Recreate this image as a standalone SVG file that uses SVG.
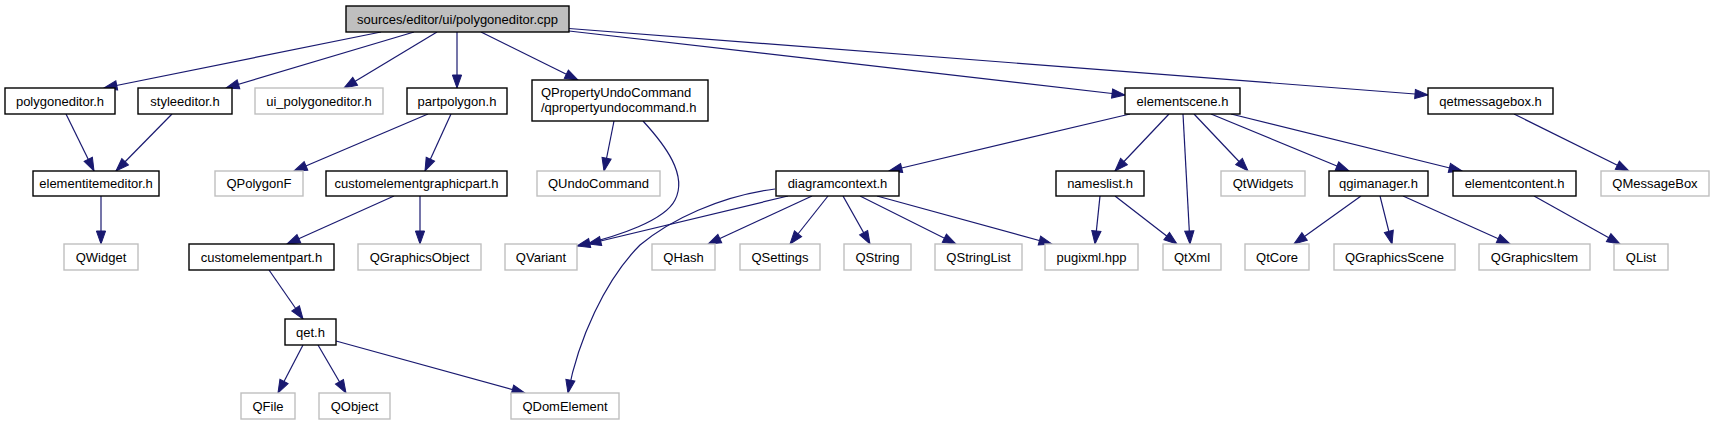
<svg xmlns="http://www.w3.org/2000/svg" width="1714" height="425" viewBox="0 0 1714 425">
<style>
rect{stroke-width:1.4}
.n rect{fill:#fff;stroke:#000}
.u rect{fill:#fff;stroke:#bfbfbf}
.r rect{fill:#bfbfbf;stroke:#000}
text{font-family:"Liberation Sans",Arial,sans-serif;font-size:13px;fill:#000;text-anchor:middle}
text.l{text-anchor:start}
#edges path{fill:none;stroke:#191970;stroke-width:1.2;marker-end:url(#a)}
</style>
<defs>
<marker id="a" markerUnits="userSpaceOnUse" markerWidth="16" markerHeight="12" refX="13" refY="6" orient="auto" overflow="visible">
<path d="M0,1.4 L13,6 L0,10.6 Z" fill="#191970" stroke="#191970" stroke-width="1"/>
</marker>
</defs>
<rect width="1714" height="425" fill="#fff"/>
<g id="edges">
<path d="M381,32 L104,88"/>
<path d="M414,32 L226,88"/>
<path d="M437,32 L344,88"/>
<path d="M457,32 L457,88"/>
<path d="M481,32 L578,80"/>
<path d="M569,31 L1125,95"/>
<path d="M569,28.5 L1428,95"/>
<path d="M66,114 L94,171"/>
<path d="M172,114 L116,171"/>
<path d="M101,196 L101,244"/>
<path d="M428,114 L294,171"/>
<path d="M451,114 L425,171"/>
<path d="M394,196 L287,244"/>
<path d="M420,196 L420,244"/>
<path d="M269,270 L303,319"/>
<path d="M303,345 L278,393"/>
<path d="M318,345 L346,393"/>
<path d="M336,341 L525,393"/>
<path d="M614,121 L604,171"/>
<path d="M643,121 C665,145 688,175 675,200 C665,220 620,236 577,246"/>
<path d="M1130,114 L889,171"/>
<path d="M1169,114 L1115,171"/>
<path d="M1183,114 L1190,244"/>
<path d="M1194,114 L1248,171"/>
<path d="M1211,114 L1349,171"/>
<path d="M1231,114 L1462,171"/>
<path d="M788,196 L588,244"/>
<path d="M812,196 L708,244"/>
<path d="M828,196 L790,244"/>
<path d="M843,196 L870,244"/>
<path d="M860,196 L956,244"/>
<path d="M877,196 L1052,244"/>
<path d="M775,189 C720,196 670,220 640,245 C605,280 578,340 568,393"/>
<path d="M1100,196 L1095,244"/>
<path d="M1115,196 L1177,244"/>
<path d="M1361,196 L1294,244"/>
<path d="M1380,196 L1392,244"/>
<path d="M1403,196 L1510,244"/>
<path d="M1534,196 L1620,244"/>
<path d="M1514,114 L1629,171"/>
</g>
<g id="root" class="r"><rect x="346" y="6" width="223" height="26"/><text x="457.5" y="23.5">sources/editor/ui/polygoneditor.cpp</text></g>
<g id="polygoneditor_h" class="n"><rect x="5" y="88" width="110" height="26"/><text x="60" y="105.5">polygoneditor.h</text></g>
<g id="styleeditor_h" class="n"><rect x="138" y="88" width="94" height="26"/><text x="185" y="105.5">styleeditor.h</text></g>
<g id="ui_polygoneditor_h" class="u"><rect x="255" y="88" width="128" height="26"/><text x="319" y="105.5">ui_polygoneditor.h</text></g>
<g id="partpolygon_h" class="n"><rect x="407" y="88" width="100" height="26"/><text x="457" y="105.5">partpolygon.h</text></g>
<g id="qpropertyundocommand_h" class="n"><rect x="532" y="80" width="176" height="41"/><text class="l" x="541" y="97">QPropertyUndoCommand</text><text class="l" x="541" y="112">/qpropertyundocommand.h</text></g>
<g id="elementscene_h" class="n"><rect x="1125" y="88" width="115" height="26"/><text x="1182.5" y="105.5">elementscene.h</text></g>
<g id="qetmessagebox_h" class="n"><rect x="1428" y="88" width="125" height="26"/><text x="1490.5" y="105.5">qetmessagebox.h</text></g>
<g id="elementitemeditor_h" class="n"><rect x="33" y="171" width="126" height="25"/><text x="96" y="188">elementitemeditor.h</text></g>
<g id="QPolygonF" class="u"><rect x="215" y="171" width="88" height="25"/><text x="259" y="188">QPolygonF</text></g>
<g id="customelementgraphicpart_h" class="n"><rect x="326" y="171" width="181" height="25"/><text x="416.5" y="188">customelementgraphicpart.h</text></g>
<g id="QUndoCommand" class="u"><rect x="537" y="171" width="123" height="25"/><text x="598.5" y="188">QUndoCommand</text></g>
<g id="diagramcontext_h" class="n"><rect x="776" y="171" width="123" height="25"/><text x="837.5" y="188">diagramcontext.h</text></g>
<g id="nameslist_h" class="n"><rect x="1056" y="171" width="88" height="25"/><text x="1100" y="188">nameslist.h</text></g>
<g id="QtWidgets" class="u"><rect x="1221" y="171" width="84" height="25"/><text x="1263" y="188">QtWidgets</text></g>
<g id="qgimanager_h" class="n"><rect x="1329" y="171" width="99" height="25"/><text x="1378.5" y="188">qgimanager.h</text></g>
<g id="elementcontent_h" class="n"><rect x="1453" y="171" width="123" height="25"/><text x="1514.5" y="188">elementcontent.h</text></g>
<g id="QMessageBox" class="u"><rect x="1601" y="171" width="108" height="25"/><text x="1655" y="188">QMessageBox</text></g>
<g id="QWidget" class="u"><rect x="64" y="244" width="74" height="26"/><text x="101" y="261.5">QWidget</text></g>
<g id="customelementpart_h" class="n"><rect x="189" y="244" width="145" height="26"/><text x="261.5" y="261.5">customelementpart.h</text></g>
<g id="QGraphicsObject" class="u"><rect x="358" y="244" width="123" height="26"/><text x="419.5" y="261.5">QGraphicsObject</text></g>
<g id="QVariant" class="u"><rect x="505" y="244" width="72" height="26"/><text x="541" y="261.5">QVariant</text></g>
<g id="QHash" class="u"><rect x="652" y="244" width="63" height="26"/><text x="683.5" y="261.5">QHash</text></g>
<g id="QSettings" class="u"><rect x="740" y="244" width="80" height="26"/><text x="780" y="261.5">QSettings</text></g>
<g id="QString" class="u"><rect x="844" y="244" width="67" height="26"/><text x="877.5" y="261.5">QString</text></g>
<g id="QStringList" class="u"><rect x="935" y="244" width="87" height="26"/><text x="978.5" y="261.5">QStringList</text></g>
<g id="pugixml_hpp" class="u"><rect x="1045" y="244" width="93" height="26"/><text x="1091.5" y="261.5">pugixml.hpp</text></g>
<g id="QtXml" class="u"><rect x="1163" y="244" width="58" height="26"/><text x="1192" y="261.5">QtXml</text></g>
<g id="QtCore" class="u"><rect x="1245" y="244" width="64" height="26"/><text x="1277" y="261.5">QtCore</text></g>
<g id="QGraphicsScene" class="u"><rect x="1334" y="244" width="121" height="26"/><text x="1394.5" y="261.5">QGraphicsScene</text></g>
<g id="QGraphicsItem" class="u"><rect x="1479" y="244" width="111" height="26"/><text x="1534.5" y="261.5">QGraphicsItem</text></g>
<g id="QList" class="u"><rect x="1614" y="244" width="54" height="26"/><text x="1641" y="261.5">QList</text></g>
<g id="qet_h" class="n"><rect x="285" y="319" width="51" height="26"/><text x="310.5" y="336.5">qet.h</text></g>
<g id="QFile" class="u"><rect x="241" y="393" width="54" height="26"/><text x="268" y="410.5">QFile</text></g>
<g id="QObject" class="u"><rect x="319" y="393" width="71" height="26"/><text x="354.5" y="410.5">QObject</text></g>
<g id="QDomElement" class="u"><rect x="511" y="393" width="108" height="26"/><text x="565" y="410.5">QDomElement</text></g>
</svg>
